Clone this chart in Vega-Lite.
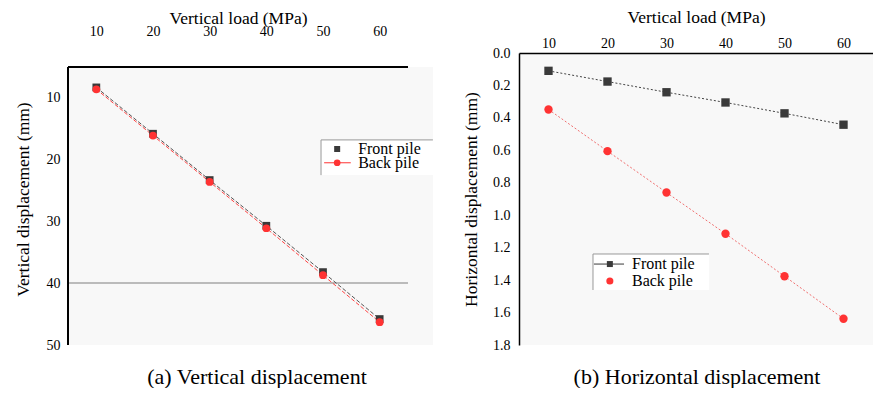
{
  "$schema": "https://vega.github.io/schema/vega-lite/v6.json",
  "background": "white",
  "padding": {"left": 14, "top": 8, "right": 0, "bottom": 0},
  "spacing": 28,
  "resolve": {
    "scale": {"color": "independent", "shape": "independent", "stroke": "independent"}
  },
  "config": {
    "font": "Liberation Serif",
    "view": {"stroke": null},
    "axis": {
      "labelFont": "Liberation Serif",
      "titleFont": "Liberation Serif",
      "labelFontSize": 14,
      "titleFontSize": 17.5,
      "titleFontWeight": "normal",
      "labelColor": "black",
      "titleColor": "black",
      "domainColor": "black",
      "domainWidth": 1.5,
      "ticks": false,
      "grid": false
    },
    "text": {"font": "Liberation Serif", "fontSize": 16, "align": "left", "baseline": "middle", "color": "black"},
    "title": {"font": "Liberation Serif", "fontSize": 22, "fontWeight": "normal", "color": "black"}
  },
  "datasets": {
    "vert": [
      {"load": 10, "pile": "Front pile", "disp": 8.3},
      {"load": 20, "pile": "Front pile", "disp": 15.8},
      {"load": 30, "pile": "Front pile", "disp": 23.3},
      {"load": 40, "pile": "Front pile", "disp": 30.7},
      {"load": 50, "pile": "Front pile", "disp": 38.2},
      {"load": 60, "pile": "Front pile", "disp": 45.8},
      {"load": 10, "pile": "Back pile", "disp": 8.6},
      {"load": 20, "pile": "Back pile", "disp": 16.1},
      {"load": 30, "pile": "Back pile", "disp": 23.6},
      {"load": 40, "pile": "Back pile", "disp": 31.1},
      {"load": 50, "pile": "Back pile", "disp": 38.7},
      {"load": 60, "pile": "Back pile", "disp": 46.3}
    ],
    "horiz": [
      {"load": 10, "pile": "Front pile", "disp": 0.11},
      {"load": 20, "pile": "Front pile", "disp": 0.176},
      {"load": 30, "pile": "Front pile", "disp": 0.242},
      {"load": 40, "pile": "Front pile", "disp": 0.305},
      {"load": 50, "pile": "Front pile", "disp": 0.372},
      {"load": 60, "pile": "Front pile", "disp": 0.442},
      {"load": 10, "pile": "Back pile", "disp": 0.348},
      {"load": 20, "pile": "Back pile", "disp": 0.605},
      {"load": 30, "pile": "Back pile", "disp": 0.86},
      {"load": 40, "pile": "Back pile", "disp": 1.114},
      {"load": 50, "pile": "Back pile", "disp": 1.376},
      {"load": 60, "pile": "Back pile", "disp": 1.638}
    ]
  },
  "hconcat": [
    {
      "width": 340,
      "height": 292,
      "title": {"text": "(a) Vertical displacement", "orient": "bottom", "offset": 15, "dx": 19},
      "data": {"name": "vert"},
      "encoding": {
        "x": {
          "field": "load", "type": "quantitative",
          "scale": {"domain": [5, 65], "nice": false, "zero": false},
          "axis": {"orient": "top", "values": [10, 20, 30, 40, 50, 60], "domain": false, "title": "Vertical load (MPa)", "labelPadding": 15, "titlePadding": -3}
        },
        "y": {
          "field": "disp", "type": "quantitative",
          "scale": {"domain": [2.73, 50], "reverse": true, "nice": false, "zero": false},
          "axis": {"values": [10, 20, 30, 40, 50], "domain": false, "title": "Vertical displacement (mm)", "labelPadding": 8, "titlePadding": 14}
        }
      },
      "layer": [
        {
          "mark": {"type": "rect", "fill": "#f8f8f8"},
          "encoding": {"x": {"datum": 5}, "x2": {"datum": 69.4}, "y": {"datum": 5}, "y2": {"datum": 50}}
        },
        {
          "mark": {"type": "rule", "color": "#bbbbbb", "strokeWidth": 1},
          "encoding": {"y": {"datum": 40}, "x": {"datum": 5}, "x2": {"datum": 65}}
        },
        {
          "mark": {"type": "rule", "color": "black", "strokeWidth": 1.5},
          "encoding": {"y": {"datum": 5}, "x": {"datum": 5}, "x2": {"datum": 65}}
        },
        {
          "mark": {"type": "rule", "color": "black", "strokeWidth": 1.5},
          "encoding": {"x": {"datum": 5}, "y": {"datum": 5}, "y2": {"datum": 50}}
        },
        {
          "mark": {"type": "line", "strokeWidth": 1, "strokeDash": [4, 2]},
          "encoding": {
            "detail": {"field": "pile", "type": "nominal"},
            "stroke": {"field": "pile", "type": "nominal", "scale": {"domain": ["Front pile", "Back pile"], "range": ["#555555", "#ff4444"]}, "legend": null}
          }
        },
        {
          "mark": {"type": "point", "filled": true, "opacity": 1, "size": 60},
          "encoding": {
            "shape": {"field": "pile", "type": "nominal", "scale": {"domain": ["Front pile", "Back pile"], "range": ["square", "circle"]}, "legend": null},
            "color": {"field": "pile", "type": "nominal", "scale": {"domain": ["Front pile", "Back pile"], "range": ["#3a3a3a", "#ff3333"]}, "legend": null}
          }
        },
        {
          "transform": [{"filter": "datum.load === 10 && datum.pile === 'Front pile'"}],
          "mark": {"type": "rect", "fill": "white"},
          "encoding": {"x": {"datum": 49.65}, "x2": {"datum": 69.4}, "y": {"datum": 16.8}, "y2": {"datum": 22.5}}
        },
        {
          "transform": [{"filter": "datum.load === 10 && datum.pile === 'Front pile'"}],
          "mark": {"type": "rule", "color": "#999999", "strokeWidth": 1},
          "encoding": {"x": {"datum": 49.65}, "y": {"datum": 16.8}, "y2": {"datum": 22.5}}
        },
        {
          "transform": [{"filter": "datum.load === 10 && datum.pile === 'Front pile'"}],
          "mark": {"type": "rule", "color": "#999999", "strokeWidth": 1},
          "encoding": {"y": {"datum": 16.8}, "x": {"datum": 49.65}, "x2": {"datum": 69.4}}
        },
        {
          "transform": [{"filter": "datum.load === 10 && datum.pile === 'Front pile'"}],
          "mark": {"type": "point", "shape": "square", "filled": true, "opacity": 1, "size": 36, "color": "#3a3a3a"},
          "encoding": {"x": {"datum": 52.5}, "y": {"datum": 18.27}}
        },
        {
          "transform": [{"filter": "datum.load === 10 && datum.pile === 'Front pile'"}],
          "mark": {"type": "rule", "color": "#ff3333", "strokeWidth": 1},
          "encoding": {"y": {"datum": 20.5}, "x": {"datum": 50.2}, "x2": {"datum": 54.9}}
        },
        {
          "transform": [{"filter": "datum.load === 10 && datum.pile === 'Front pile'"}],
          "mark": {"type": "point", "shape": "circle", "filled": true, "opacity": 1, "size": 45, "color": "#ff3333"},
          "encoding": {"x": {"datum": 52.5}, "y": {"datum": 20.5}}
        },
        {
          "transform": [{"filter": "datum.load === 10 && datum.pile === 'Front pile'"}],
          "mark": {"type": "text"},
          "encoding": {"x": {"datum": 56.2}, "y": {"datum": 18.27}, "text": {"value": "Front pile"}}
        },
        {
          "transform": [{"filter": "datum.load === 10 && datum.pile === 'Front pile'"}],
          "mark": {"type": "text"},
          "encoding": {"x": {"datum": 56.2}, "y": {"datum": 20.5}, "text": {"value": "Back pile"}}
        }
      ]
    },
    {
      "width": 354,
      "height": 292,
      "view": {"fill": "#f8f8f8", "stroke": null},
      "title": {"text": "(b) Horizontal displacement", "orient": "bottom", "offset": 15, "dx": 1},
      "data": {"name": "horiz"},
      "encoding": {
        "x": {
          "field": "load", "type": "quantitative",
          "scale": {"domain": [5, 65], "nice": false, "zero": false},
          "axis": {"orient": "top", "values": [10, 20, 30, 40, 50, 60], "title": "Vertical load (MPa)", "labelPadding": 3, "titlePadding": 10}
        },
        "y": {
          "field": "disp", "type": "quantitative",
          "scale": {"domain": [0, 1.8], "reverse": true, "nice": false, "zero": false},
          "axis": {"values": [0, 0.2, 0.4, 0.6, 0.8, 1.0, 1.2, 1.4, 1.6, 1.8], "format": ".1f", "title": "Horizontal displacement (mm)", "labelPadding": 9, "titlePadding": 12}
        }
      },
      "layer": [
        {
          "mark": {"type": "line", "strokeWidth": 1, "strokeDash": [2, 2]},
          "encoding": {
            "detail": {"field": "pile", "type": "nominal"},
            "stroke": {"field": "pile", "type": "nominal", "scale": {"domain": ["Front pile", "Back pile"], "range": ["#444444", "#f07070"]}, "legend": null}
          }
        },
        {
          "mark": {"type": "point", "filled": true, "opacity": 1, "size": 70},
          "encoding": {
            "shape": {"field": "pile", "type": "nominal", "scale": {"domain": ["Front pile", "Back pile"], "range": ["square", "circle"]}, "legend": null},
            "color": {"field": "pile", "type": "nominal", "scale": {"domain": ["Front pile", "Back pile"], "range": ["#3a3a3a", "#ff3333"]}, "legend": null}
          }
        },
        {
          "transform": [{"filter": "datum.load === 10 && datum.pile === 'Front pile'"}],
          "mark": {"type": "rect", "fill": "white"},
          "encoding": {"x": {"datum": 17.54}, "x2": {"datum": 37.2}, "y": {"datum": 1.239}, "y2": {"datum": 1.461}}
        },
        {
          "transform": [{"filter": "datum.load === 10 && datum.pile === 'Front pile'"}],
          "mark": {"type": "rule", "color": "#999999", "strokeWidth": 1},
          "encoding": {"x": {"datum": 17.54}, "y": {"datum": 1.239}, "y2": {"datum": 1.461}}
        },
        {
          "transform": [{"filter": "datum.load === 10 && datum.pile === 'Front pile'"}],
          "mark": {"type": "rule", "color": "#999999", "strokeWidth": 1},
          "encoding": {"y": {"datum": 1.239}, "x": {"datum": 17.54}, "x2": {"datum": 37.2}}
        },
        {
          "transform": [{"filter": "datum.load === 10 && datum.pile === 'Front pile'"}],
          "mark": {"type": "rule", "color": "#3a3a3a", "strokeWidth": 1},
          "encoding": {"y": {"datum": 1.301}, "x": {"datum": 17.7}, "x2": {"datum": 22.8}}
        },
        {
          "transform": [{"filter": "datum.load === 10 && datum.pile === 'Front pile'"}],
          "mark": {"type": "point", "shape": "square", "filled": true, "opacity": 1, "size": 36, "color": "#3a3a3a"},
          "encoding": {"x": {"datum": 20.4}, "y": {"datum": 1.301}}
        },
        {
          "transform": [{"filter": "datum.load === 10 && datum.pile === 'Front pile'"}],
          "mark": {"type": "point", "shape": "circle", "filled": true, "opacity": 1, "size": 50, "color": "#ff3333"},
          "encoding": {"x": {"datum": 20.4}, "y": {"datum": 1.406}}
        },
        {
          "transform": [{"filter": "datum.load === 10 && datum.pile === 'Front pile'"}],
          "mark": {"type": "text"},
          "encoding": {"x": {"datum": 24.15}, "y": {"datum": 1.301}, "text": {"value": "Front pile"}}
        },
        {
          "transform": [{"filter": "datum.load === 10 && datum.pile === 'Front pile'"}],
          "mark": {"type": "text"},
          "encoding": {"x": {"datum": 24.15}, "y": {"datum": 1.406}, "text": {"value": "Back pile"}}
        }
      ]
    }
  ]
}
